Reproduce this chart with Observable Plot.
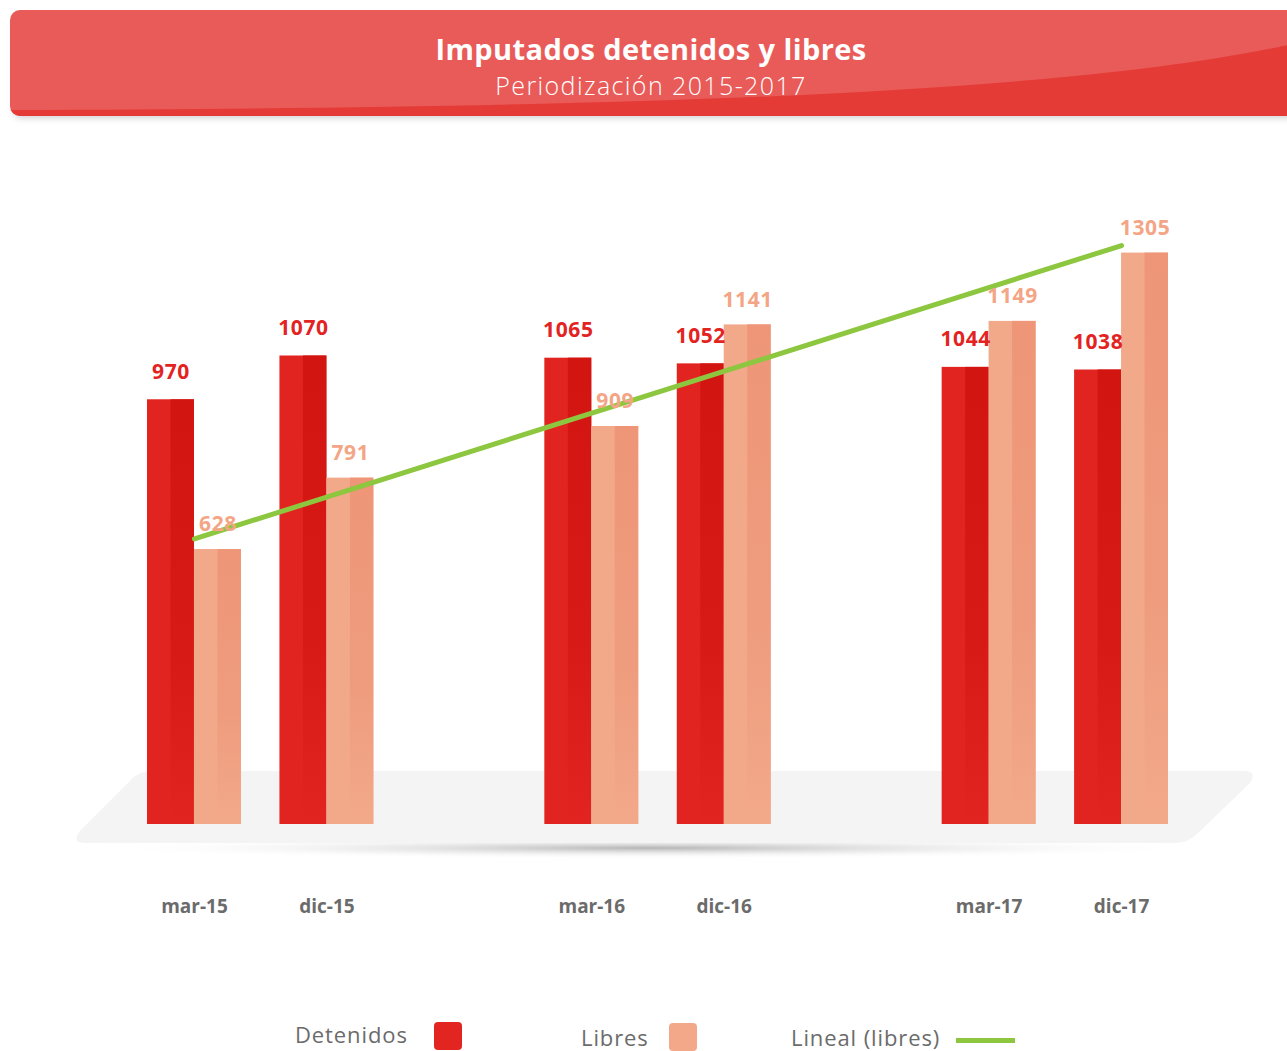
<!DOCTYPE html>
<html><head><meta charset="utf-8">
<script src="https://cdn.jsdelivr.net/npm/d3@7"></script>
<script src="https://cdn.jsdelivr.net/npm/@observablehq/plot@0.6"></script>
<style>
html,body{margin:0;padding:0;background:#fff;}
body{width:1287px;height:1051px;overflow:hidden;position:relative;font-family:"Open Sans",sans-serif;}
#banner{position:absolute;left:10px;top:10px;width:1300px;height:106px;border-radius:10px;overflow:hidden;background:#E95B58;box-shadow:0 6px 7px -4px rgba(0,0,0,0.18);}
#banner svg{position:absolute;left:0;top:0;}
.title{position:absolute;left:0;width:1302px;text-align:center;color:#fff;white-space:nowrap;}
#t1{top:33px;font-size:29px;line-height:32px;font-weight:700;letter-spacing:0.4px;}
#t2{top:71px;font-size:25px;line-height:28px;font-weight:300;letter-spacing:1.4px;}
#deco{position:absolute;left:0;top:0;}
#chart{position:absolute;left:0;top:130px;}
.leg{position:absolute;font-size:22px;color:#6b6b6b;white-space:nowrap;line-height:26px;letter-spacing:0.9px;}
.sw{position:absolute;border-radius:4px;}
</style></head><body>
<div id="banner">
  <svg width="1300" height="106"><path d="M0,100 C690,98 1090,80 1300,30 L1300,106 L0,106 Z" fill="#E53B37"/></svg>
</div>
<div class="title" id="t1">Imputados detenidos y libres</div>
<div class="title" id="t2">Periodización 2015-2017</div>
<svg id="deco" width="1287" height="1051">
  <defs>
    <radialGradient id="shad" cx="0.5" cy="0.5" r="0.5">
      <stop offset="0" stop-color="#b5b5b5"/>
      <stop offset="1" stop-color="#ffffff" stop-opacity="0"/>
    </radialGradient>
  </defs>
  <ellipse cx="650" cy="848" rx="560" ry="11" fill="url(#shad)"/>
  <path d="M152,771 L1244,771 Q1258,771 1250,783 L1198,833 Q1188,843 1175,843 L84,843 Q72,843 79,832 L130,781 Q138,771 152,771 Z" fill="#f4f4f4"/>
</svg>
<div id="chart"></div>
<div class="leg" style="left:295px;top:1021px;">Detenidos</div>
<div class="sw" style="left:434px;top:1022px;width:28px;height:28px;background:#E32522;"></div>
<div class="leg" style="left:581px;top:1024px;">Libres</div>
<div class="sw" style="left:669px;top:1023px;width:28px;height:28px;background:#F3A88A;"></div>
<div class="leg" style="left:791px;top:1024px;">Lineal (libres)</div>
<div class="sw" style="left:956px;top:1038px;width:59px;height:5px;border-radius:0;background:#8DC63F;"></div>
<script>
const periods = ["mar-15","dic-15","mar-16","dic-16","mar-17","dic-17"];
const detenidos = [970,1070,1065,1052,1044,1038];
const libres = [628,791,909,1141,1149,1305];
// band domain with spacer slots between years
const xDomain = ["mar-15","dic-15","gap1","mar-16","dic-16","gap2","mar-17","dic-17"];

const data = periods.map((p,i)=>({period:p, det:detenidos[i], lib:libres[i]}));

// linear trend of "libres" (least squares over period index 1..n)
const idx = libres.map((_,i)=>i+1);
const mx = d3.mean(idx), my = d3.mean(libres);
const slope = d3.sum(idx,(x,i)=>(x-mx)*(libres[i]-my)) / d3.sum(idx,x=>(x-mx)**2);
const icpt = my - slope*mx;
const trend = [
  {period: periods[0], v: icpt + slope*idx[0]},
  {period: periods[periods.length-1], v: icpt + slope*idx[idx.length-1]}
];

const W = 1287, H = 830, ML = 147, MR = 119, MB = 136;
const xOpts = {type:"band", domain:xDomain, paddingInner:0.291, paddingOuter:0, round:false};
const bw = Plot.scale({x:{...xOpts, range:[ML, W-MR]}}).bandwidth;

const plot = Plot.plot({
  width: W, height: H,
  marginLeft: ML, marginRight: MR, marginTop: 81, marginBottom: MB,
  style: {background:"transparent", fontFamily:"'Open Sans', sans-serif", fontSize:"19px", fontWeight:"700", color:"#6b6b6b"},
  x: {...xOpts, label:null, tickSize:0, tickPadding:75, tickFormat: d => d.startsWith("gap") ? "" : d},
  y: {domain:[0,1400], axis:null},
  marks: [
    Plot.barY(data, {x:"period", y:"det", fill:"#E1241F", insetRight: bw/2}),
    Plot.barY(data, {x:"period", y:"det", fill:"url(#gDet)", insetLeft: bw/4, insetRight: bw/2}),
    Plot.barY(data, {x:"period", y:"lib", fill:"#F2A98A", insetLeft: bw/2}),
    Plot.barY(data, {x:"period", y:"lib", fill:"url(#gLib)", insetLeft: 3*bw/4}),
    Plot.line(trend, {x:"period", y:"v", stroke:"#8DC63F", strokeWidth:5}),
    Plot.text(data, {x:"period", y:"det", text: d=>String(d.det), dx:-bw/4, dy:-28, fill:"#E3231F", fontSize:21, fontWeight:700}),
    Plot.text(data, {x:"period", y:"lib", text: d=>String(d.lib), dx:bw/4, dy:-25, fill:"#F3A586", fontSize:21, fontWeight:700})
  ]
});

const ns = "http://www.w3.org/2000/svg";
const defs = document.createElementNS(ns, "defs");
defs.innerHTML = `
<linearGradient id="gDet" x1="0" y1="0" x2="0" y2="1">
  <stop offset="0" stop-color="#D31512"/><stop offset="0.6" stop-color="#D81A16"/><stop offset="1" stop-color="#E1241F"/>
</linearGradient>
<linearGradient id="gLib" x1="0" y1="0" x2="0" y2="1">
  <stop offset="0" stop-color="#EE9677"/><stop offset="0.6" stop-color="#EF9C7E"/><stop offset="1" stop-color="#F2A98A"/>
</linearGradient>`;
plot.insertBefore(defs, plot.firstChild);
plot.querySelectorAll("text").forEach(t => { if (/^\d+$/.test(t.textContent)) t.setAttribute("letter-spacing", "0.6"); });
document.getElementById("chart").appendChild(plot);
</script>
</body></html>
